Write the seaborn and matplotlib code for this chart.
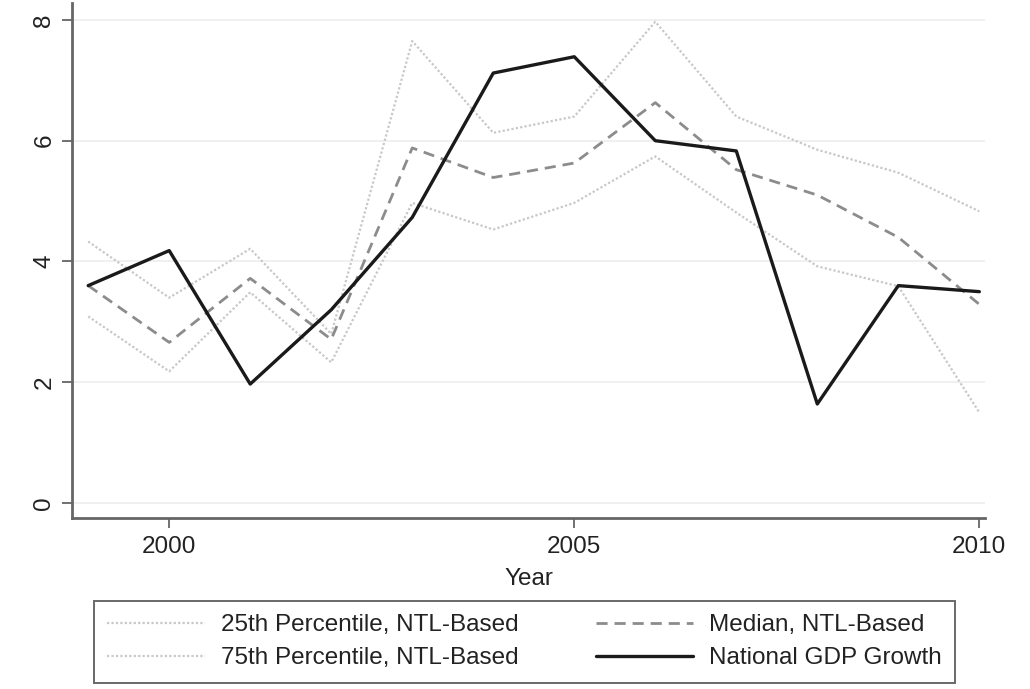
import numpy as np
import pandas as pd
import matplotlib
matplotlib.use("Agg")
import matplotlib.pyplot as plt
import seaborn as sns

# ----------------------------------------------------
# DATA
# ----------------------------------------------------

years = [1999, 2000, 2001, 2002, 2003, 2004, 2005, 2006, 2007, 2008, 2009, 2010]
p25_ntl = [3.09, 2.18, 3.49, 2.33, 4.97, 4.53, 4.97, 5.74, 4.81, 3.92, 3.59, 1.50]
p75_ntl = [4.33, 3.40, 4.21, 2.80, 7.65, 6.13, 6.40, 7.97, 6.40, 5.85, 5.47, 4.83]
median_ntl = [3.60, 2.66, 3.72, 2.71, 5.88, 5.39, 5.63, 6.63, 5.52, 5.10, 4.40, 3.29]
gdp_growth = [3.60, 4.18, 1.97, 3.20, 4.73, 7.12, 7.39, 6.00, 5.83, 1.64, 3.60, 3.50]

labels = ["25th Percentile, NTL-Based", "75th Percentile, NTL-Based",
          "Median, NTL-Based", "National GDP Growth"]

# ----------------------------------------------------
# PLOT
# ----------------------------------------------------

sns.set_style("white")
plt.rcParams["font.family"] = ["Liberation Sans", "DejaVu Sans"]
FS = 17.5

df = pd.DataFrame({
    "Year": years,
    labels[0]: p25_ntl,
    labels[1]: p75_ntl,
    labels[2]: median_ntl,
    labels[3]: gdp_growth,
})

fig = plt.figure(figsize=(10.30, 6.89), dpi=100)
ax = fig.add_axes([72 / 1030, 1 - 518 / 689, 913 / 1030, 515 / 689])

styles = {
    labels[0]: dict(color="#c8c8c8", linestyle=(0, (1, 1)), linewidth=1.6),
    labels[1]: dict(color="#c8c8c8", linestyle=(0, (1, 1)), linewidth=1.6),
    labels[2]: dict(color="#8c8c8c", linestyle=(0, (4, 2.5)), linewidth=2.0),
    labels[3]: dict(color="#1a1a1a", linestyle="-", linewidth=2.4),
}

for name in labels:
    sns.lineplot(data=df, x="Year", y=name, ax=ax, label=name, **styles[name])

ax.set_xlim(1998.8, 2010.07)
ax.set_ylim(-0.248, 8.28)
ax.set_xticks([2000, 2005, 2010])
ax.set_yticks([0, 2, 4, 6, 8])
ax.set_xlabel("Year", fontsize=FS, labelpad=7, color="#222222")
ax.set_ylabel("")
ax.grid(axis="y", color="#eeeeee", linewidth=1.2)
ax.set_axisbelow(True)

for s in ["top", "right"]:
    ax.spines[s].set_visible(False)
for s in ["left", "bottom"]:
    ax.spines[s].set_color("#666666")
    ax.spines[s].set_linewidth(2.0)

ax.tick_params(axis="both", which="major", direction="out", length=7, width=1.3,
               color="#666666", labelsize=FS, labelcolor="#222222",
               bottom=True, left=True)
ax.tick_params(axis="x", pad=6)
ax.tick_params(axis="y", pad=5)
for t in ax.get_yticklabels():
    t.set_rotation(90)
    t.set_va("center")

handles, lbls = ax.get_legend_handles_labels()
ax.get_legend().remove()
leg = fig.legend(handles, lbls, loc="upper left",
                 bbox_to_anchor=(94 / 1030, 1 - 601 / 689),
                 ncol=2, fontsize=FS, frameon=True, fancybox=False,
                 handlelength=4.0, handletextpad=0.66, columnspacing=3.2,
                 borderaxespad=0, labelspacing=0.45, borderpad=0.55)
leg.get_frame().set_edgecolor("#444444")
leg.get_frame().set_linewidth(1.4)
for txt in leg.get_texts():
    txt.set_color("#222222")

fig.savefig("out.png", dpi=100)
plt.close(fig)
